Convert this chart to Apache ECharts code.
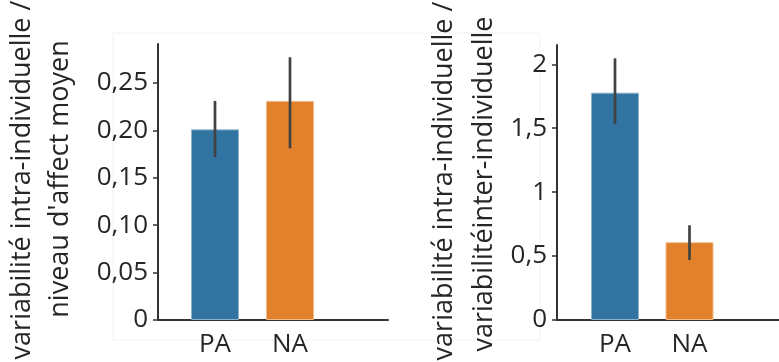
<!DOCTYPE html>
<html><head><meta charset="utf-8">
<script src="https://cdn.jsdelivr.net/npm/echarts@6/dist/echarts.min.js"></script>
<style>html,body{margin:0;padding:0;background:#fff}#c{width:779px;height:362px}</style>
</head><body><div id="c"></div>
<script>
// ---- data ----
const categories = ['PA', 'NA'];
const leftValues = [0.201, 0.231];
const leftErrLow = [0.172, 0.181];
const leftErrHigh = [0.231, 0.277];
const leftTicks = [0, 0.05, 0.10, 0.15, 0.20, 0.25];
const leftTickLabels = ['0', '0,05', '0,10', '0,15', '0,20', '0,25'];
const leftMax = 0.291;
const rightValues = [1.778, 0.608];
const rightErrLow = [1.533, 0.469];
const rightErrHigh = [2.047, 0.741];
const rightTicks = [0, 0.5, 1, 1.5, 2];
const rightTickLabels = ['0', '0,5', '1', '1,5', '2'];
const rightMax = 2.151;
const leftTitle = ['variabilité intra-individuelle /', "niveau d'affect moyen"];
const rightTitle = ['variabilité intra-individuelle /', 'variabilitéinter-individuelle'];
const colors = ['#3274a1', '#e1812c'];
const borders = ['#8fb3cc', '#f0b98a'];

const FONT = 'Open Sans';
const TXT = '#262626';
const AX = '#333333';

function labelFor(ticks, labels) {
  return function (v) {
    let best = 0, bd = Infinity;
    ticks.forEach((t, i) => { const d = Math.abs(t - v); if (d < bd) { bd = d; best = i; } });
    return labels[best];
  };
}

const chart = echarts.init(document.getElementById('c'), null, { renderer: 'canvas' });

function axisGrid(left, width, top) { return { left: left, width: width, top: top, bottom: 42, containLabel: false }; }

const grids = [
  axisGrid(158, 230, 44),
  axisGrid(177.5, 150, 44),
  axisGrid(557, 222, 45),
  axisGrid(577.75, 149, 45)
];

function lineXAxis(gi) {
  return { type: 'value', gridIndex: gi, min: 0, max: 1, axisLine: { show: true, onZero: false, lineStyle: { color: AX, width: 2 } },
    axisTick: { show: false }, axisLabel: { show: false }, splitLine: { show: false } };
}
function catXAxis(gi) {
  return { type: 'category', gridIndex: gi, data: categories, axisLine: { show: false }, axisTick: { show: false }, splitLine: { show: false },
    axisLabel: { show: true, margin: 12, fontFamily: FONT, fontSize: 26, color: TXT } };
}
function valYAxis(gi, max, ticks, labels) {
  return { type: 'value', gridIndex: gi, min: 0, max: max,
    axisLine: { show: true, lineStyle: { color: AX, width: 2 } },
    axisTick: { show: true, length: 5, customValues: ticks, lineStyle: { color: AX, width: 1.5 } },
    axisLabel: { show: true, margin: 10, customValues: ticks, formatter: labelFor(ticks, labels), fontFamily: FONT, fontSize: 26, color: TXT },
    splitLine: { show: false } };
}
function hiddenYAxis(gi, max) {
  return { type: 'value', gridIndex: gi, min: 0, max: max, show: false, splitLine: { show: false } };
}

function barSeries(xi, values) {
  return { type: 'bar', xAxisIndex: xi, yAxisIndex: xi, barWidth: 48,
    data: values.map((v, i) => ({ value: v, itemStyle: { color: colors[i], borderColor: borders[i], borderWidth: 1 } })),
    z: 2, silent: true };
}
function errSeries(xi, lows, highs) {
  return { type: 'custom', xAxisIndex: xi, yAxisIndex: xi, z: 5, silent: true,
    data: lows.map((l, i) => [i, l, highs[i]]),
    encode: { x: 0, y: [1, 2] },
    renderItem: function (params, api) {
      const p1 = api.coord([api.value(0), api.value(1)]);
      const p2 = api.coord([api.value(0), api.value(2)]);
      return { type: 'line', shape: { x1: p1[0], y1: p1[1], x2: p2[0], y2: p2[1] }, style: { stroke: '#424242', lineWidth: 2.7 } };
    } };
}

function titleTexts(lines, xs, ys) {
  return lines.map((t, i) => ({ type: 'text', x: xs[i], y: ys[i], rotation: Math.PI / 2, silent: true,
    style: { text: t, fontFamily: FONT, fontSize: 27, fill: TXT, textAlign: 'center', textVerticalAlign: 'middle' } }));
}

chart.setOption({
  animation: false,
  grid: grids,
  xAxis: [lineXAxis(0), catXAxis(1), lineXAxis(2), catXAxis(3)],
  yAxis: [valYAxis(0, leftMax, leftTicks, leftTickLabels), hiddenYAxis(1, leftMax),
          valYAxis(2, rightMax, rightTicks, rightTickLabels), hiddenYAxis(3, rightMax)],
  series: [barSeries(1, leftValues), errSeries(1, leftErrLow, leftErrHigh),
           barSeries(3, rightValues), errSeries(3, rightErrLow, rightErrHigh)],
  graphic: [
    { type: 'rect', silent: true, z: -10, shape: { x: 113, y: 33, width: 427, height: 307 }, style: { fill: 'none', stroke: '#f2f2f2', lineWidth: 1 } }
  ].concat(titleTexts(leftTitle, [22, 60], [180, 179]))
   .concat(titleTexts(rightTitle, [444, 484], [181, 184]))
});
</script></body></html>
